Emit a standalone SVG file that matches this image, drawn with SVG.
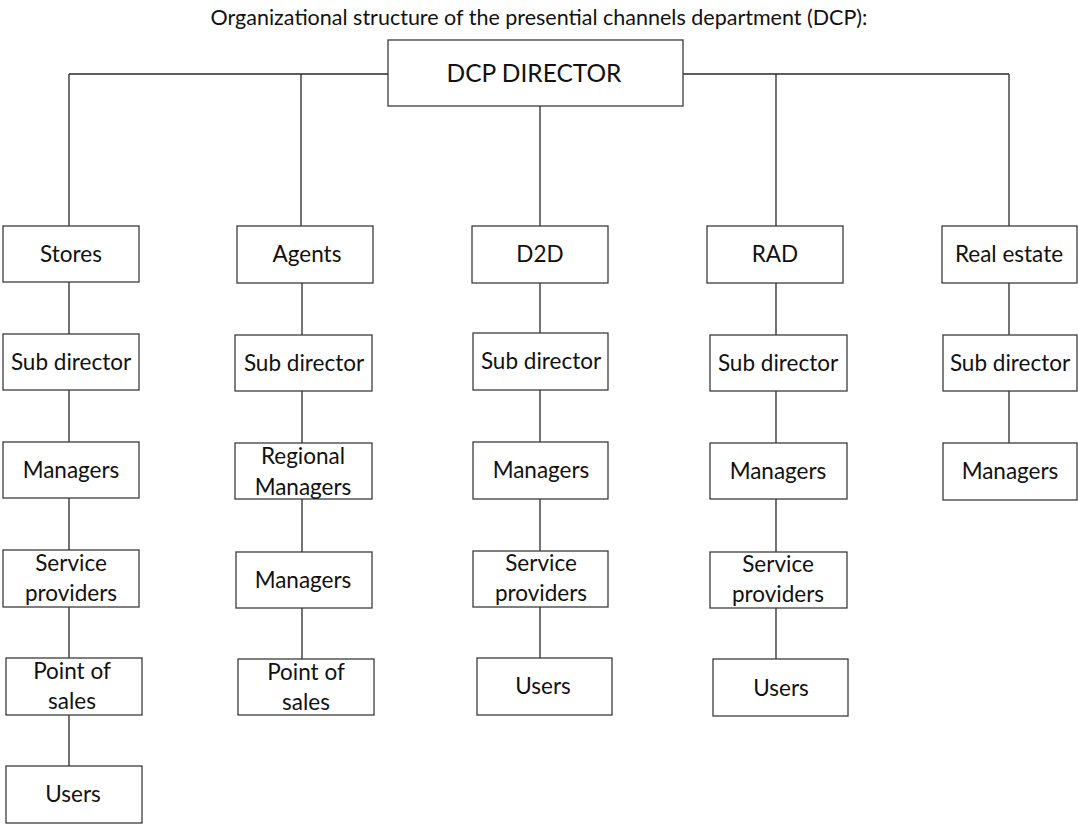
<svg xmlns="http://www.w3.org/2000/svg" width="1078" height="825" viewBox="0 0 1078 825">
  <style>
    .box { fill: #ffffff; stroke: #3c3c3c; stroke-width: 1.3; }
    .lbl { font-family: Lato, "Open Sans", "Liberation Sans", sans-serif; font-size: 22.5px; fill: #111111; text-anchor: middle; }
    .link { stroke: #2a2a2a; stroke-width: 1.3; fill: none; }
    .title { font-family: Lato, "Open Sans", "Liberation Sans", sans-serif; font-size: 21.5px; fill: #111111; text-anchor: middle; }
  </style>
  <rect width="1078" height="825" fill="#ffffff"/>

  <text class="title" x="539" y="25">Organizational structure of the presential channels department (DCP):</text>

  <!-- connectors -->
  <g id="connectors">
    <path class="link" d="M69 74H1009 M69 74V226 M301 74V226 M776 74V226 M1009 74V226 M540 106V226"/>
    <path class="link" d="M69 282V334 M69 390V442 M69 498V550 M69 607V658 M69 715V766"/>
    <path class="link" d="M302 283V335 M302 391V443 M302 499V552 M302 608V659"/>
    <path class="link" d="M540 283V333 M540 390V442 M540 499V551 M540 607V658"/>
    <path class="link" d="M776 283V335 M776 391V443 M776 499V552 M776 608V659"/>
    <path class="link" d="M1009 283V335 M1009 391V443"/>
  </g>

  <g id="director">
    <rect class="box" x="388" y="40" width="295" height="66"/>
    <text class="lbl" x="534" y="82" style="font-size:24.5px">DCP DIRECTOR</text>
  </g>

  <!-- Stores column -->
  <g id="stores"><rect class="box" x="3" y="226" width="136" height="56"/><text class="lbl" x="71" y="262">Stores</text></g>
  <g id="stores-sub"><rect class="box" x="3" y="334" width="136" height="56"/><text class="lbl" x="71" y="370">Sub director</text></g>
  <g id="stores-managers"><rect class="box" x="3" y="442" width="136" height="56"/><text class="lbl" x="71" y="478">Managers</text></g>
  <g id="stores-providers"><rect class="box" x="3" y="550" width="136" height="57"/><text class="lbl" x="71" y="571">Service</text><text class="lbl" x="71" y="601">providers</text></g>
  <g id="stores-pos"><rect class="box" x="6" y="658" width="136" height="57"/><text class="lbl" x="72" y="679">Point of</text><text class="lbl" x="72" y="709">sales</text></g>
  <g id="stores-users"><rect class="box" x="6" y="766" width="136" height="57"/><text class="lbl" x="73" y="802">Users</text></g>

  <!-- Agents column -->
  <g id="agents"><rect class="box" x="237" y="226" width="136" height="57"/><text class="lbl" x="307" y="262">Agents</text></g>
  <g id="agents-sub"><rect class="box" x="235" y="335" width="137" height="56"/><text class="lbl" x="304" y="371">Sub director</text></g>
  <g id="agents-regional"><rect class="box" x="235" y="443" width="137" height="56"/><text class="lbl" x="303" y="464">Regional</text><text class="lbl" x="303" y="495">Managers</text></g>
  <g id="agents-managers"><rect class="box" x="236" y="552" width="136" height="56"/><text class="lbl" x="303" y="588">Managers</text></g>
  <g id="agents-pos"><rect class="box" x="238" y="659" width="136" height="56"/><text class="lbl" x="306" y="680">Point of</text><text class="lbl" x="306" y="710">sales</text></g>

  <!-- D2D column -->
  <g id="d2d"><rect class="box" x="472" y="226" width="136" height="57"/><text class="lbl" x="540" y="262">D2D</text></g>
  <g id="d2d-sub"><rect class="box" x="473" y="333" width="135" height="57"/><text class="lbl" x="541" y="369">Sub director</text></g>
  <g id="d2d-managers"><rect class="box" x="473" y="442" width="135" height="57"/><text class="lbl" x="541" y="478">Managers</text></g>
  <g id="d2d-providers"><rect class="box" x="473" y="551" width="135" height="56"/><text class="lbl" x="541" y="571">Service</text><text class="lbl" x="541" y="601">providers</text></g>
  <g id="d2d-users"><rect class="box" x="477" y="658" width="135" height="57"/><text class="lbl" x="543" y="694">Users</text></g>

  <!-- RAD column -->
  <g id="rad"><rect class="box" x="707" y="226" width="136" height="57"/><text class="lbl" x="775" y="262">RAD</text></g>
  <g id="rad-sub"><rect class="box" x="710" y="335" width="137" height="56"/><text class="lbl" x="778" y="371">Sub director</text></g>
  <g id="rad-managers"><rect class="box" x="710" y="443" width="137" height="56"/><text class="lbl" x="778" y="479">Managers</text></g>
  <g id="rad-providers"><rect class="box" x="710" y="552" width="137" height="56"/><text class="lbl" x="778" y="572">Service</text><text class="lbl" x="778" y="602">providers</text></g>
  <g id="rad-users"><rect class="box" x="713" y="659" width="135" height="57"/><text class="lbl" x="781" y="696">Users</text></g>

  <!-- Real estate column -->
  <g id="realestate"><rect class="box" x="942" y="226" width="135" height="57"/><text class="lbl" x="1009" y="262">Real estate</text></g>
  <g id="realestate-sub"><rect class="box" x="943" y="335" width="134" height="56"/><text class="lbl" x="1010" y="371">Sub director</text></g>
  <g id="realestate-managers"><rect class="box" x="943" y="443" width="134" height="57"/><text class="lbl" x="1010" y="479">Managers</text></g>
</svg>
